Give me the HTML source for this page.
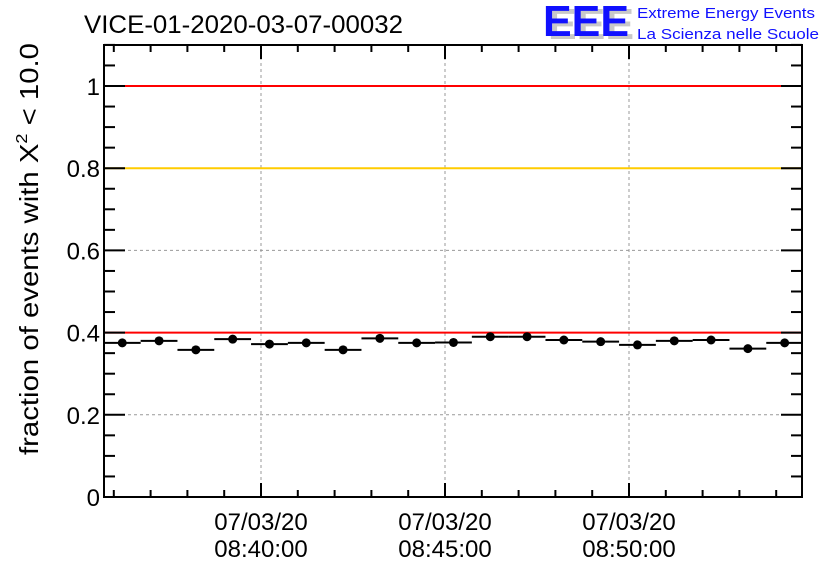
<!DOCTYPE html>
<html><head><meta charset="utf-8"><style>
body{margin:0;background:#fff;width:836px;height:572px;overflow:hidden}
text{font-family:"Liberation Sans",sans-serif}
</style></head><body>
<svg id="c" width="836" height="572">
<text x="84" y="33" font-size="25" textLength="319" lengthAdjust="spacingAndGlyphs">VICE-01-2020-03-07-00032</text>
<g>
<text x="548" y="39" font-size="44" font-weight="bold" fill="#c8c8c8" textLength="86" lengthAdjust="spacingAndGlyphs">EEE</text>
<text x="543" y="36" font-size="44" font-weight="bold" fill="#1010ff" textLength="86" lengthAdjust="spacingAndGlyphs">EEE</text>
<text x="637" y="18" font-size="15" fill="#1010ff" textLength="178" lengthAdjust="spacingAndGlyphs">Extreme Energy Events</text>
<text x="637" y="39" font-size="15" fill="#1010ff" textLength="182" lengthAdjust="spacingAndGlyphs">La Scienza nelle Scuole</text>
</g>
<text transform="translate(38,455) rotate(-90)" font-size="26" textLength="412" lengthAdjust="spacingAndGlyphs">fraction of events with X<tspan dy="-11" font-size="16">2</tspan><tspan dy="11"> &lt; 10.0</tspan></text>
<g id="plot"></g>
</svg>
<script>
const values=[0.375,0.380,0.358,0.384,0.372,0.375,0.358,0.386,0.375,0.376,0.390,0.390,0.382,0.378,0.370,0.380,0.382,0.361,0.375];
const yTicks=[0,0.2,0.4,0.6,0.8,1];
const yTickLabels=["0","0.2","0.4","0.6","0.8","1"];
const xTickMinutes=[40,45,50];
const xTickLabels=[["07/03/20","08:40:00"],["07/03/20","08:45:00"],["07/03/20","08:50:00"]];
const refLines=[[1,"#ff0000"],[0.8,"#ffcc00"],[0.4,"#ff0000"]];
const L=104,R=802,T=45,B=497;
const pxPerMin=36.8, xOrigin=261, originMin=40;
const X=m=>xOrigin+(m-originMin)*pxPerMin;
const Y=v=>B-v*411;
const firstBinStart=35.73;
const g=document.getElementById('plot');
const NS='http://www.w3.org/2000/svg';
function el(t,a){const e=document.createElementNS(NS,t);for(const k in a)e.setAttribute(k,a[k]);g.appendChild(e);return e;}
xTickMinutes.forEach(m=>{const e=el('line',{x1:X(m),x2:X(m),y1:T,y2:B,stroke:'#999','stroke-dasharray':'3,3'});

});
yTicks.forEach(v=>{if(v===0)return;const e=el('line',{x1:L,x2:R,y1:Y(v),y2:Y(v),stroke:'#999','stroke-dasharray':'3,3'});

});
refLines.forEach(r=>{const e=el('line',{x1:L,x2:R,y1:Y(r[0]),y2:Y(r[0]),stroke:r[1],'stroke-width':2});

});
for(let v=0;v<=1.1001;v+=0.05){const maj=Math.abs(v/0.2-Math.round(v/0.2))<1e-6;const len=maj?21:11;
el('line',{x1:L,x2:L+len,y1:Y(v),y2:Y(v),stroke:'#000','stroke-width':2});
el('line',{x1:R,x2:R-len,y1:Y(v),y2:Y(v),stroke:'#000','stroke-width':2});}
for(let m=36;m<=54;m++){const maj=m%5===0;const len=maj?14:7;
el('line',{x1:X(m),x2:X(m),y1:B,y2:B-len,stroke:'#000','stroke-width':2});
el('line',{x1:X(m),x2:X(m),y1:T,y2:T+len,stroke:'#000','stroke-width':2});}
const f=el('rect',{x:L,y:T,width:R-L,height:B-T,fill:'none',stroke:'#000','stroke-width':2});


yTicks.forEach((v,i)=>{const t=el('text',{x:L-4,y:Y(v)+9,'text-anchor':'end','font-size':24});t.textContent=yTickLabels[i];

});
xTickMinutes.forEach((m,i)=>{xTickLabels[i].forEach((s,j)=>{const t=el('text',{x:X(m),y:530+j*27,'text-anchor':'middle','font-size':24});t.textContent=s;

});});
values.forEach((v,i)=>{const x0=Math.max(L,X(firstBinStart+i)),x1=Math.min(R,X(firstBinStart+i+1)),xc=X(firstBinStart+i+0.5);
const b=el('line',{x1:x0,x2:x1,y1:Y(v),y2:Y(v),stroke:'#000','stroke-width':2});


const p=el('circle',{cx:xc,cy:Y(v),r:4.5,fill:'#000'});

});
</script>
</body></html>
